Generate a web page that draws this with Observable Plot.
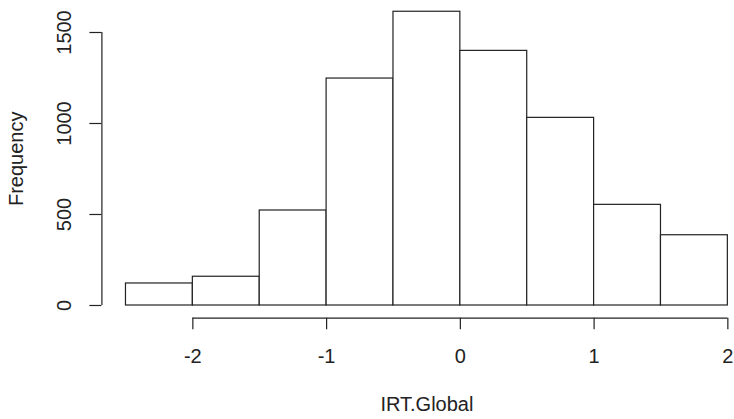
<!DOCTYPE html>
<html>
<head>
<meta charset="utf-8">
<script src="https://cdn.jsdelivr.net/npm/d3@7"></script>
<script src="https://cdn.jsdelivr.net/npm/@observablehq/plot@0.6"></script>
<style>
  html, body { margin: 0; padding: 0; background: #fff; }
  #chart svg { display: block; }
</style>
</head>
<body>
<div id="chart"></div>
<script>
// Histogram of IRT.Global (bin edges and counts)
const binStarts = [-2.5, -2.0, -1.5, -1.0, -0.5, 0.0, 0.5, 1.0, 1.5];
const binWidth = 0.5;
const counts = [121, 158, 522, 1247, 1614, 1399, 1031, 553, 386];
const xTicks = [-2, -1, 0, 1, 2];
const yTicks = [0, 500, 1000, 1500];
const xLabel = "IRT.Global";
const yLabel = "Frequency";

const bins = binStarts.map((s, i) => ({x1: s, x2: s + binWidth, count: counts[i]}));

const font = "Liberation Sans, Arial, Helvetica, sans-serif";
const W = 734, H = 419;

const chart = Plot.plot({
  width: W,
  height: H,
  marginLeft: 101.4,
  marginRight: 1.3,
  marginTop: 0,
  marginBottom: 101.3,
  style: {fontFamily: font, fontSize: "20px", color: "#222", background: "#fff", overflow: "visible"},
  x: {domain: [-2.68, 2.04]},
  y: {domain: [-69.8, 1675.8]},
  marks: [
    Plot.rectY(bins, {x1: "x1", x2: "x2", y1: 0, y2: "count", fill: "#fff", stroke: "#222", strokeWidth: 1.2, inset: 0}),
    // y axis line and ticks
    Plot.ruleX([-2.68], {y1: yTicks[0], y2: yTicks[yTicks.length - 1], stroke: "#222", strokeWidth: 1.2}),
    Plot.axisY({ticks: yTicks, tickSize: 12, tickFormat: () => "", stroke: "#222", strokeWidth: 1.2, label: null}),
    Plot.text(yTicks, {x: -2.68, y: d => d, text: d => String(d), rotate: -90, dx: -37, textAnchor: "middle", lineAnchor: "middle", fontSize: 20, fill: "#222"}),
    // x axis line and ticks
    Plot.ruleY([-69.8], {x1: xTicks[0], x2: xTicks[xTicks.length - 1], stroke: "#222", strokeWidth: 1.2}),
    Plot.axisX({ticks: xTicks, tickSize: 11.6, tickPadding: 19, tickFormat: d => String(d), stroke: "#222", strokeWidth: 1.2, fontSize: 20, label: null, lineAnchor: "top"}),
    // axis titles
    Plot.text([xLabel], {frameAnchor: "bottom", x: -0.25, text: d => d, dy: 79, lineAnchor: "top", fontSize: 20, fill: "#222"}),
    Plot.text([yLabel], {frameAnchor: "left", y: 806, text: d => d, rotate: -90, dx: -85.4, textAnchor: "middle", lineAnchor: "middle", fontSize: 20, fill: "#222"})
  ]
});

document.getElementById("chart").appendChild(chart);
</script>
</body>
</html>
